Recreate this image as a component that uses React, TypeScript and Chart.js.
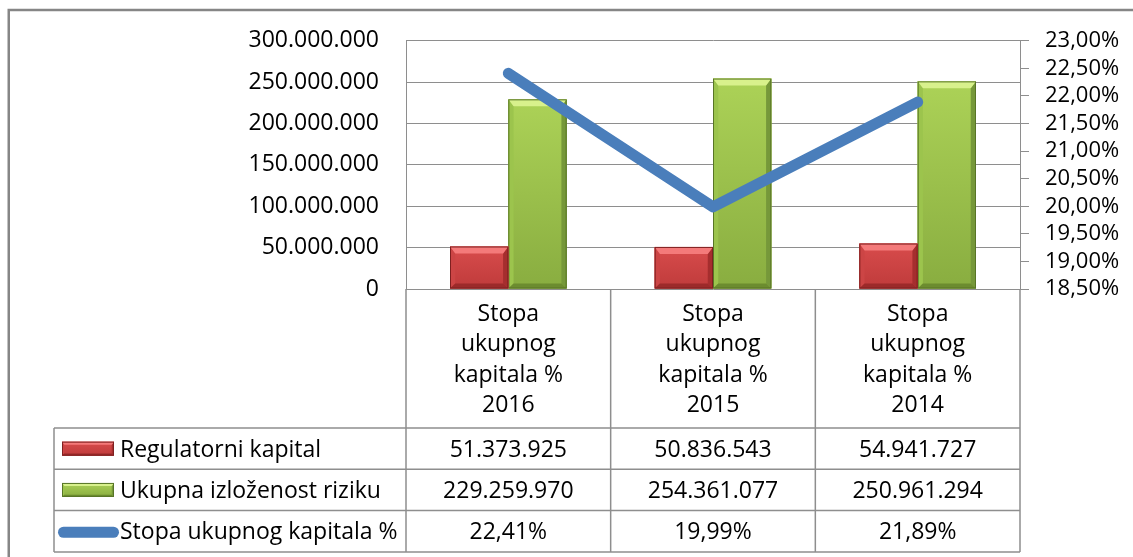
import React, { useEffect, useRef } from 'react';
import { Chart, registerables } from 'chart.js';

Chart.register(...registerables);

// ---------- data ----------
const categoryLines: string[][] = [
  ['Stopa', 'ukupnog', 'kapitala %', '2016'],
  ['Stopa', 'ukupnog', 'kapitala %', '2015'],
  ['Stopa', 'ukupnog', 'kapitala %', '2014'],
];
const regulatorniKapital = [51373925, 50836543, 54941727];
const ukupnaIzlozenost = [229259970, 254361077, 250961294];
const stopaKapitala = [22.41, 19.99, 21.89];
const seriesNames = ['Regulatorni kapital', 'Ukupna izloženost riziku', 'Stopa ukupnog kapitala %'];
const leftAxis = { min: 0, max: 300000000, step: 50000000 };
const rightAxis = { min: 18.5, max: 23, step: 0.5 };

// ---------- styling ----------
const FONT = '"Open Sans", sans-serif';
const GRID = '#8e8e8e';
const LINE_BLUE = '#4a7ebb';
const TABLE_LEFT = 54;
const HEADER_H = 139;
const ROW_H = 41.3;

type Pal = { faceTop: string; faceBottom: string; top: string; bottom: string; left: string; right: string; edge: string };
const redPal: Pal = {
  faceTop: '#d84c4c', faceBottom: '#bf3b3b', top: '#f47a7a', bottom: '#9c2a2a',
  left: '#cc4545', right: '#a52e2e', edge: '#7f2020',
};
const greenPal: Pal = {
  faceTop: '#acd257', faceBottom: '#89ad40', top: '#d8f18c', bottom: '#6c8c2f',
  left: '#9cc44d', right: '#76983a', edge: '#587526',
};

const fmtThousands = (n: number) => String(Math.round(n)).replace(/\B(?=(\d{3})+(?!\d))/g, '.');
const fmtPct = (v: number) => v.toFixed(2).replace('.', ',') + '%';

function drawBevelBar(ctx: CanvasRenderingContext2D, l: number, t: number, r: number, b: number, pal: Pal, s: number) {
  const w = r - l;
  const h = b - t;
  if (w <= 0 || h <= 0) return;
  const st = Math.min(s, h / 2);
  const sb = Math.min(s * 0.7, h / 2);
  const ss = Math.min(s * 0.75, w / 2);
  ctx.save();
  const g = ctx.createLinearGradient(0, t, 0, b);
  g.addColorStop(0, pal.faceTop);
  g.addColorStop(1, pal.faceBottom);
  ctx.fillStyle = g;
  ctx.fillRect(l, t, w, h);
  const poly = (pts: number[][], color: string) => {
    ctx.beginPath();
    ctx.moveTo(pts[0][0], pts[0][1]);
    for (let i = 1; i < pts.length; i++) ctx.lineTo(pts[i][0], pts[i][1]);
    ctx.closePath();
    ctx.fillStyle = color;
    ctx.fill();
  };
  poly([[l, t], [l + ss, t + st], [l + ss, b - sb], [l, b]], pal.left);
  poly([[r, t], [r - ss, t + st], [r - ss, b - sb], [r, b]], pal.right);
  poly([[l, b], [r, b], [r - ss, b - sb], [l + ss, b - sb]], pal.bottom);
  poly([[l, t], [r, t], [r - ss, t + st], [l + ss, t + st]], pal.top);
  ctx.strokeStyle = pal.edge;
  ctx.lineWidth = 1;
  ctx.strokeRect(l + 0.5, t + 0.5, w - 1, h - 1);
  ctx.restore();
}

const bevelPlugin = {
  id: 'bevelBars',
  afterDatasetDraw(chart: any, args: any) {
    const ds = chart.data.datasets[args.index];
    if (ds.type !== 'bar') return;
    const pal: Pal = ds.bevelPalette;
    const ctx = chart.ctx as CanvasRenderingContext2D;
    args.meta.data.forEach((el: any) => {
      const { x, y, base, width } = el.getProps(['x', 'y', 'base', 'width'], true);
      drawBevelBar(ctx, x - width / 2, Math.min(y, base), x + width / 2, Math.max(y, base), pal, 7);
    });
  },
};

const framePlugin = {
  id: 'frameAndTable',
  beforeDraw(chart: any) {
    const ctx = chart.ctx as CanvasRenderingContext2D;
    ctx.save();
    ctx.fillStyle = '#ffffff';
    ctx.fillRect(0, 0, chart.width, chart.height);
    ctx.strokeStyle = '#868686';
    ctx.lineWidth = 2.5;
    ctx.strokeRect(8.75, 10, chart.width + 40, chart.height + 40);
    ctx.restore();
  },
  afterDraw(chart: any) {
    const ctx = chart.ctx as CanvasRenderingContext2D;
    const area = chart.chartArea;
    const xs = chart.scales.x;
    const centers = categoryLines.map((_, i) => xs.getPixelForValue(i));
    const bounds = [area.left];
    for (let i = 1; i < centers.length; i++) bounds.push((centers[i - 1] + centers[i]) / 2);
    bounds.push(area.right);
    const top = area.bottom;
    const headerBottom = top + HEADER_H;
    const rowTops = [0, 1, 2].map((i) => headerBottom + i * ROW_H);
    const tableBottom = headerBottom + 3 * ROW_H;

    ctx.save();
    ctx.strokeStyle = GRID;
    ctx.lineWidth = 1.5;
    const line = (x1: number, y1: number, x2: number, y2: number) => {
      ctx.beginPath();
      ctx.moveTo(x1, y1);
      ctx.lineTo(x2, y2);
      ctx.stroke();
    };
    bounds.forEach((x) => line(x, top, x, tableBottom));
    line(TABLE_LEFT, headerBottom, TABLE_LEFT, tableBottom);
    [headerBottom, rowTops[1], rowTops[2], tableBottom].forEach((y) => line(TABLE_LEFT, y, area.right, y));

    // header (category labels)
    ctx.fillStyle = '#000';
    ctx.font = `23px ${FONT}`;
    ctx.textAlign = 'center';
    ctx.textBaseline = 'alphabetic';
    const capHalf = 8.2;
    const headerMid = (top + headerBottom) / 2;
    const lh = 30.5;
    categoryLines.forEach((lines, i) => {
      lines.forEach((txt, j) => {
        const y = headerMid + (j - (lines.length - 1) / 2) * lh + capHalf;
        ctx.fillText(txt, centers[i], y);
      });
    });

    // values
    const rows = [
      regulatorniKapital.map(fmtThousands),
      ukupnaIzlozenost.map(fmtThousands),
      stopaKapitala.map(fmtPct),
    ];
    rows.forEach((vals, r) => {
      const mid = rowTops[r] + ROW_H / 2;
      vals.forEach((v, i) => ctx.fillText(v, centers[i], mid + capHalf));
    });

    // legend keys + names
    ctx.textAlign = 'left';
    seriesNames.forEach((name, r) => {
      const mid = rowTops[r] + ROW_H / 2;
      if (r === 0) drawBevelBar(ctx, 62, mid - 7, 114, mid + 7, redPal, 3);
      if (r === 1) drawBevelBar(ctx, 62, mid - 7, 114, mid + 7, greenPal, 3);
      if (r === 2) {
        ctx.save();
        ctx.strokeStyle = LINE_BLUE;
        ctx.lineWidth = 11;
        ctx.lineCap = 'round';
        line(63.5, mid + 1, 113.5, mid + 1);
        ctx.restore();
      }
      ctx.fillStyle = '#000';
      ctx.fillText(name, 120, mid + capHalf);
    });
    ctx.restore();
  },
};

export default function App() {
  const ref = useRef<HTMLCanvasElement>(null);
  useEffect(() => {
    if (!ref.current) return;
    const chart = new Chart(ref.current, {
      type: 'bar',
      data: {
        labels: categoryLines,
        datasets: [
          {
            type: 'line',
            label: seriesNames[2],
            data: stopaKapitala,
            yAxisID: 'y1',
            borderColor: LINE_BLUE,
            borderWidth: 11,
            borderCapStyle: 'round',
            borderJoinStyle: 'round',
            pointRadius: 0,
            tension: 0,
            order: 0,
          } as any,
          {
            type: 'bar',
            label: seriesNames[0],
            data: regulatorniKapital,
            yAxisID: 'y',
            backgroundColor: redPal.faceTop,
            borderWidth: 0,
            categoryPercentage: 0.57,
            barPercentage: 1,
            order: 1,
            bevelPalette: redPal,
          } as any,
          {
            type: 'bar',
            label: seriesNames[1],
            data: ukupnaIzlozenost,
            yAxisID: 'y',
            backgroundColor: greenPal.faceTop,
            borderWidth: 0,
            categoryPercentage: 0.57,
            barPercentage: 1,
            order: 1,
            bevelPalette: greenPal,
          } as any,
        ],
      },
      options: {
        animation: false,
        responsive: false,
        devicePixelRatio: 1,
        layout: { padding: { left: 0, right: 0, top: 39, bottom: 268 } },
        plugins: {
          legend: { display: false },
          tooltip: { enabled: false },
        },
        scales: {
          x: { type: 'category', display: false, offset: true },
          y: {
            type: 'linear',
            position: 'left',
            min: leftAxis.min,
            max: leftAxis.max,
            afterFit: (s: any) => { s.width = 406; },
            grid: { color: GRID, lineWidth: 1, drawTicks: false },
            border: { display: true, color: GRID, width: 1 },
            ticks: {
              stepSize: leftAxis.step,
              autoSkip: false,
              padding: 27,
              color: '#000',
              font: { family: FONT, size: 23 },
              callback: (v: any) => fmtThousands(Number(v)),
            },
          },
          y1: {
            type: 'linear',
            position: 'right',
            min: rightAxis.min,
            max: rightAxis.max,
            afterFit: (s: any) => { s.width = 113; },
            grid: { drawOnChartArea: false, drawTicks: true, tickLength: 9, color: GRID, lineWidth: 1 },
            border: { display: true, color: GRID, width: 1 },
            ticks: {
              stepSize: rightAxis.step,
              autoSkip: false,
              padding: 16,
              color: '#000',
              font: { family: FONT, size: 22 },
              callback: (v: any) => fmtPct(Number(v)),
            },
          },
        },
      } as any,
      plugins: [bevelPlugin, framePlugin],
    });
    return () => chart.destroy();
  }, []);
  return (
    <div style={{ position: 'absolute', left: 0, top: 0, width: 1133, height: 557, background: '#fff' }}>
      <canvas ref={ref} width={1133} height={557} style={{ display: 'block', width: 1133, height: 557 }} />
    </div>
  );
}
